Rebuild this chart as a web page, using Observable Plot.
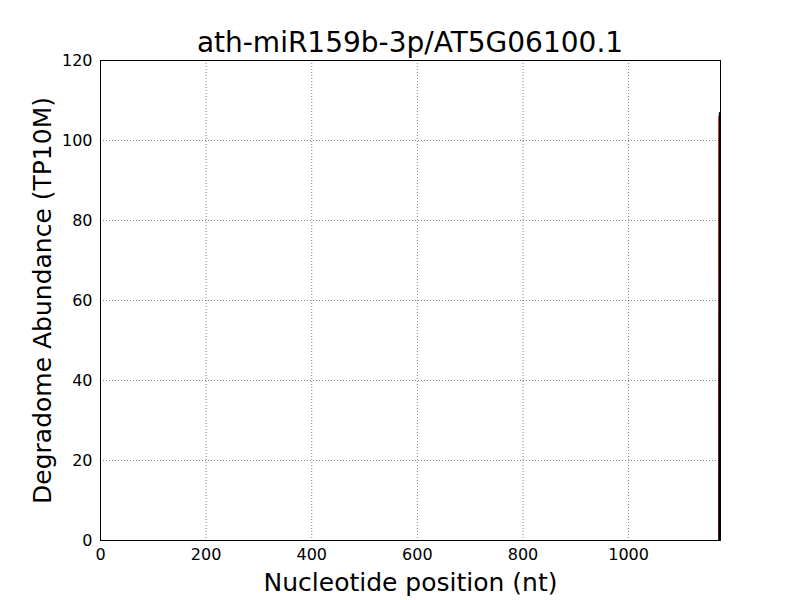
<!DOCTYPE html>
<html>
<head>
<meta charset="utf-8">
<script src="https://cdn.jsdelivr.net/npm/d3@7"></script>
<script src="https://cdn.jsdelivr.net/npm/@observablehq/plot@0.6"></script>
<style>
  html, body { margin: 0; padding: 0; background: #fff; }
  #wrap { position: relative; width: 800px; height: 600px; font-family: "DejaVu Sans", sans-serif; }
  #title { position: absolute; left: 60px; width: 700px; top: 26px; text-align.center; text-align: center; font-size: 28px; line-height: 34px; color: #000; white-space: nowrap; }
  #chart { position: absolute; left: 0; top: 0; }
</style>
</head>
<body>
<div id="wrap">
  <div id="chart"></div>
  <div id="title"></div>
</div>
<script>
const titleText = "ath-miR159b-3p/AT5G06100.1";
const xLabel = "Nucleotide position (nt)";
const yLabel = "Degradome Abundance (TP10M)";
const xTicks = [0, 200, 400, 600, 800, 1000];
const yTicks = [0, 20, 40, 60, 80, 100, 120];
const xDomain = [0, 1174];
const yDomain = [0, 120];
// degradome profile (black)
const profilePos = [1, 1171, 1172, 1173, 1174];
const profileVal = [0, 0, 107, 0, 0];
// cleavage site marker (red)
const sitePos = [1171];
const siteVal = [106];

document.getElementById("title").textContent = titleText;

const profile = profilePos.map((p, i) => ({x: p, y: profileVal[i]}));
const site = sitePos.map((p, i) => ({x: p, y: siteVal[i]}));

const plot = Plot.plot({
  width: 800,
  height: 600,
  marginTop: 60,
  marginBottom: 60,
  marginLeft: 100,
  marginRight: 80,
  style: {fontFamily: "DejaVu Sans, sans-serif", background: "#fff", overflow: "visible"},
  x: {domain: xDomain, ticks: xTicks, label: null, tickFormat: d3.format("d")},
  y: {domain: yDomain, ticks: yTicks, label: null, tickFormat: d3.format("d")},
  marks: [
    Plot.gridX(xTicks.slice(1), {stroke: "#000", strokeOpacity: 0.8, strokeDasharray: "1,2", strokeWidth: 0.6}),
    Plot.gridY(yTicks.slice(1, -1), {stroke: "#000", strokeOpacity: 0.8, strokeDasharray: "1,2", strokeWidth: 0.6}),
    Plot.axisX(xTicks, {tickSize: 0, tickPadding: 8, fontSize: 16, fill: "#000", tickFormat: d3.format("d")}),
    Plot.axisY(yTicks, {tickSize: 0, tickPadding: 8, fontSize: 16, fill: "#000", tickFormat: d3.format("d")}),
    Plot.ruleX(site, {x: "x", y1: 0, y2: "y", stroke: "#d00000", strokeWidth: 1.2}),
    Plot.line(profile, {x: "x", y: "y", stroke: "#000", strokeWidth: 1.2}),
    Plot.frame({stroke: "#000", strokeWidth: 1}),
    Plot.text([xLabel], {text: d => d, frameAnchor: "bottom", lineAnchor: "middle", textAnchor: "middle", dy: 42, fontSize: 25, fill: "#000"}),
    Plot.text([yLabel], {text: d => d, frameAnchor: "left", lineAnchor: "middle", textAnchor: "middle", dx: -58, rotate: -90, fontSize: 25, fill: "#000"})
  ]
});
document.getElementById("chart").appendChild(plot);
</script>
</body>
</html>
